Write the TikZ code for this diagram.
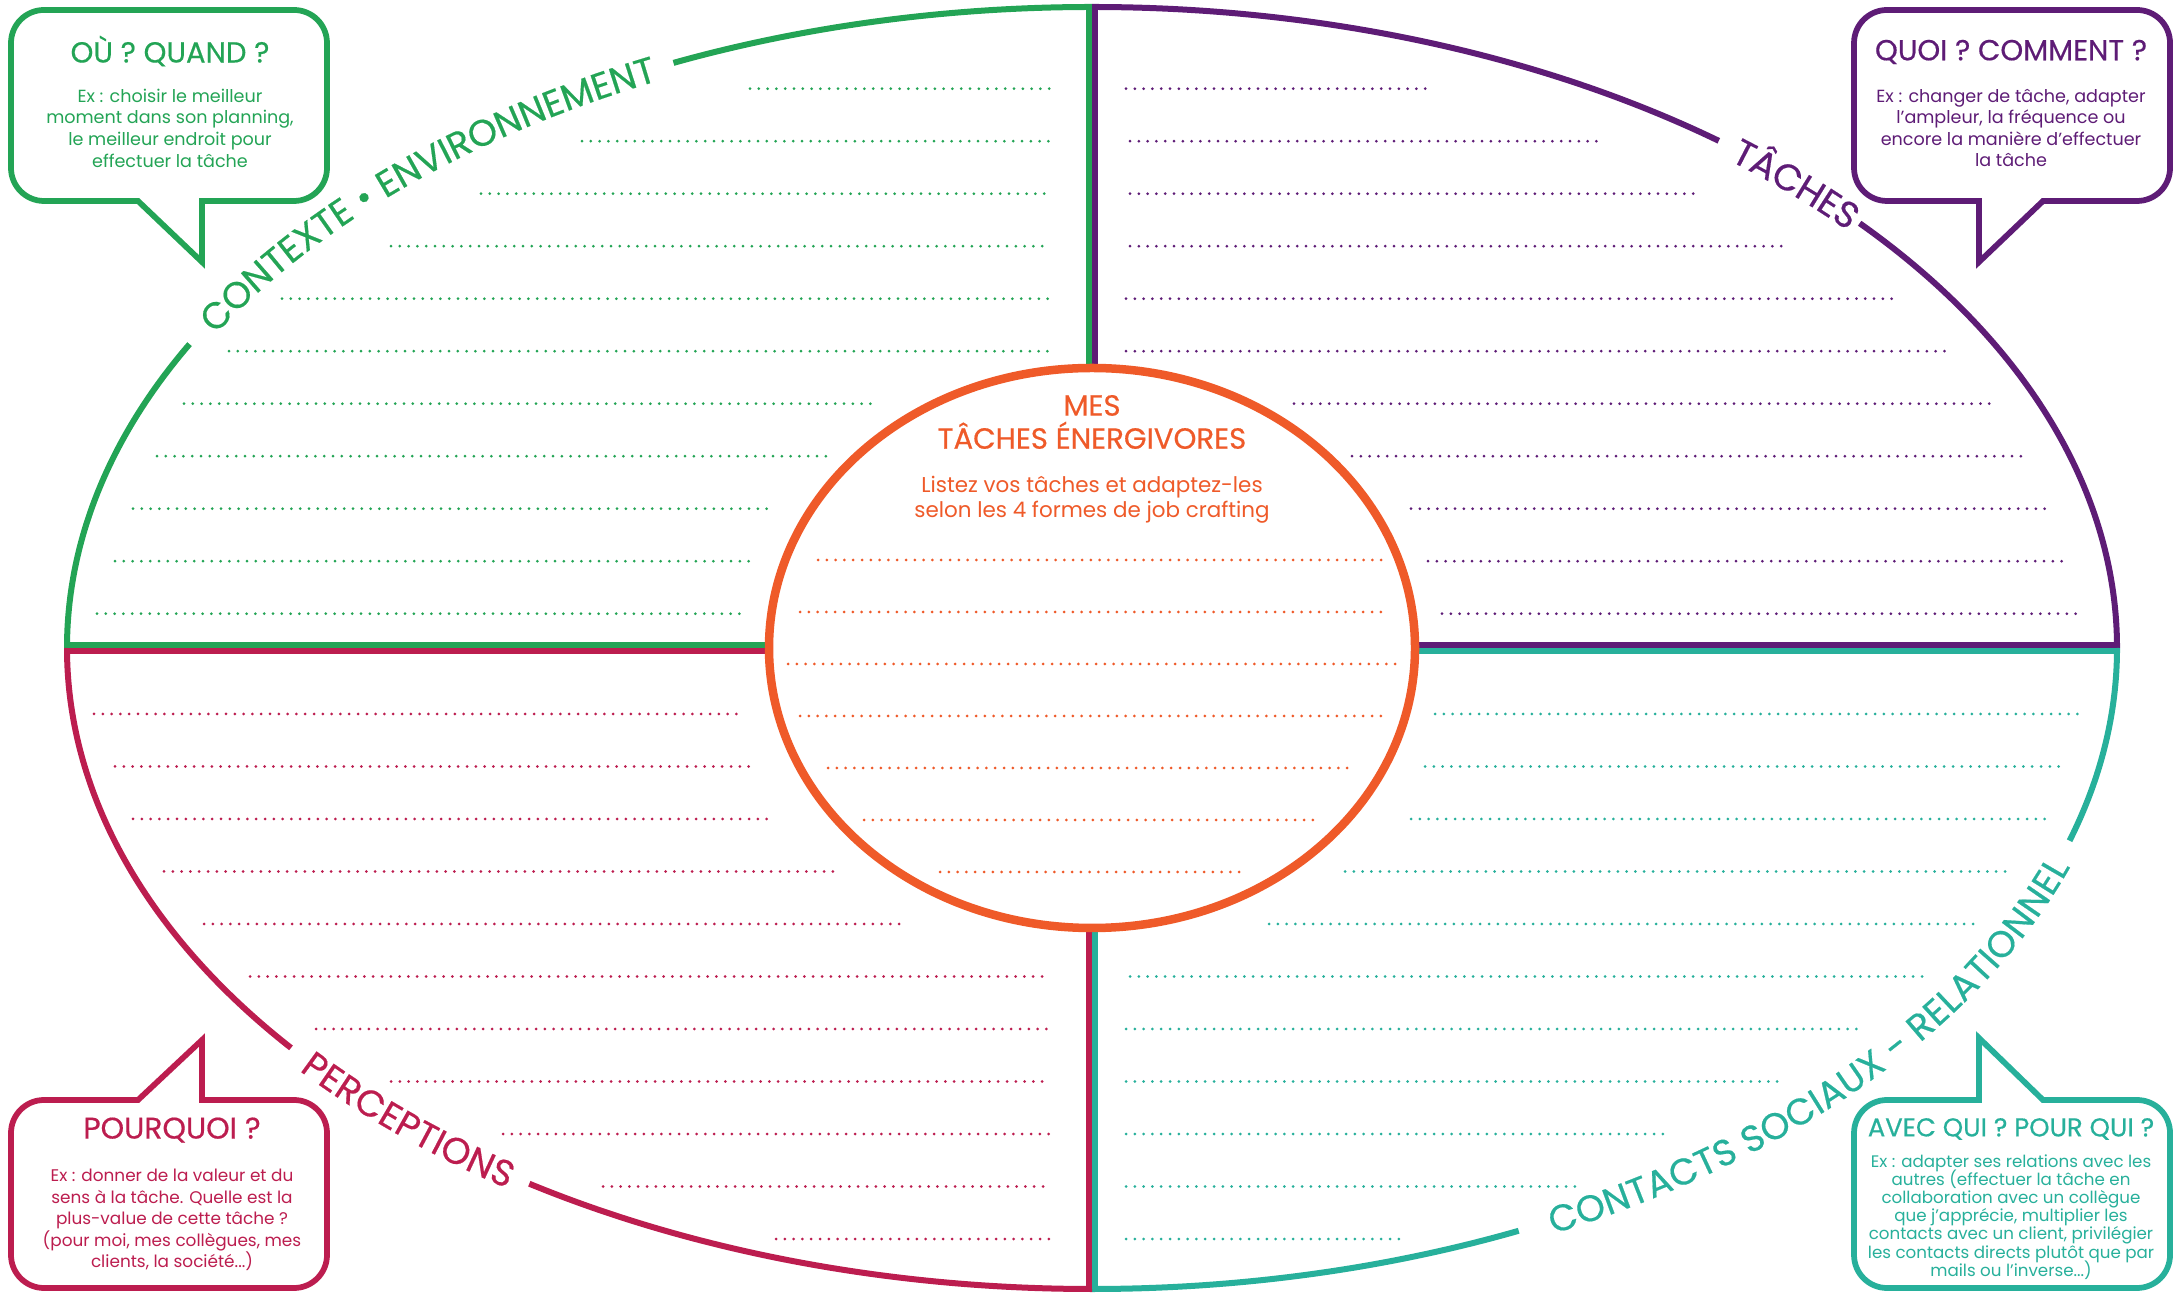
\documentclass[tikz,border=0pt]{standalone}
\usepackage{fontspec}
\setmainfont{Poppins}
\newfontfamily\headfont[FakeBold=0.45]{Poppins}
\usetikzlibrary{decorations.text}
\definecolor{jcGreen}{HTML}{23A455}
\definecolor{jcPurple}{HTML}{5E1C76}
\definecolor{jcRed}{HTML}{BC1D4F}
\definecolor{jcTeal}{HTML}{27B09B}
\definecolor{jcOrange}{HTML}{EF5A29}
\newcommand\arcfont{\headfont\fontsize{21}{21}\selectfont}

\begin{document}
\setlength\lineskiplimit{-30pt}
\begin{tikzpicture}[x=0.2mm, y=0.2mm,
  rim/.style={line width=1.2mm},
  dotrow/.style={line width=0.6mm, line cap=round, dash pattern=on 0pt off 1.76mm},
  bubble/.style={line width=1.15mm, fill=white},
  bubhead/.style={font=\headfont\fontsize{16.5}{19}\selectfont, align=center},
  bubtext/.style={font=\fontsize{10}{12.3}\selectfont, align=center},
  ell/.style={x radius=1025, y radius=641},
  arclabel/.style={decorate, decoration={text along path, text align={fit to path}, raise=-2.6mm}}
]
\path[use as bounding box] (0,0) rectangle (2174,1292);
\coordinate (C) at (1092,644);

% outer ellipse, one colour per quadrant, cut where the labels run
\draw[rim, jcGreen] (C) ++(180:1025 and 641) arc[ell, start angle=180, end angle=151.7];
\draw[rim, jcGreen] (C) ++(114.1:1025 and 641) arc[ell, start angle=114.1, end angle=90];
\draw[rim, jcPurple] (C) ++(90:1025 and 641) arc[ell, start angle=90, end angle=52.3];
\draw[rim, jcPurple] (C) ++(41.5:1025 and 641) arc[ell, start angle=41.5, end angle=0];
\draw[rim, jcTeal] (C) ++(0:1025 and 641) arc[ell, start angle=0, end angle=-17.5];
\draw[rim, jcTeal] (C) ++(-65.4:1025 and 641) arc[ell, start angle=-65.4, end angle=-90];
\draw[rim, jcRed] (C) ++(270:1025 and 641) arc[ell, start angle=270, end angle=236.7];
\draw[rim, jcRed] (C) ++(218.6:1025 and 641) arc[ell, start angle=218.6, end angle=180];

% labels on the ellipse
\path[arclabel, decoration={text={|\arcfont\color{jcGreen}|CONTEXTE • ENVIRONNEMENT}}]
  (C) ++(149.8:1025 and 641) arc[ell, start angle=149.8, end angle=115.3];
\path[arclabel, decoration={text={|\arcfont\color{jcPurple}|TÂCHES}}]
  (C) ++(51.1:1025 and 641) arc[ell, start angle=51.1, end angle=42.5];
\path[arclabel, decoration={text={|\arcfont\color{jcRed}|PERCEPTIONS}}]
  (C) ++(220:1025 and 641) arc[ell, start angle=220, end angle=235.4];
\path[arclabel, decoration={text={|\arcfont\color{jcTeal}|CONTACTS SOCIAUX - RELATIONNEL}}]
  (C) ++(-63.5:1025 and 641) arc[ell, start angle=-63.5, end angle=-19.4];

% quadrant borders
\draw[rim, jcGreen] (67,646.75) -- (1089.25,646.75) -- (1089.25,1285);
\draw[rim, jcPurple] (2117,646.75) -- (1094.75,646.75) -- (1094.75,1285);
\draw[rim, jcRed] (67,641.25) -- (1089.25,641.25) -- (1089.25,3);
\draw[rim, jcTeal] (2117,641.25) -- (1094.75,641.25) -- (1094.75,3);

% writing lines
\foreach \xa/\xb [count=\i from 0] in {750/1054, 582/1050, 481/1050, 391/1050, 282/1052,
    229/1054, 184/878, 157/829, 133/770, 115/753, 97/743}
  \draw[dotrow, jcGreen] (\xa,{1203.3-52.5*\i}) -- (\xb,{1203.3-52.5*\i});
\foreach \xa/\xb [count=\i from 0] in {1126/1428, 1130/1597, 1130/1698, 1130/1789, 1126/1897,
    1126/1952, 1294/1994, 1352/2022, 1411/2046, 1428/2066, 1442/2083}
  \draw[dotrow, jcPurple] (\xa,{1203.3-52.5*\i}) -- (\xb,{1203.3-52.5*\i});
\foreach \xa/\xb [count=\i from 0] in {94/742, 115/753, 133/770, 164/835, 204/908,
    250/1047, 316/1047, 391/1047, 503/1050, 603/1050, 776/1050}
  \draw[dotrow, jcRed] (\xa,{578-52.5*\i}) -- (\xb,{578-52.5*\i});
\foreach \xa/\xb [count=\i from 0] in {1435/2080, 1425/2063, 1411/2046, 1345/2013, 1269/1976,
    1130/1927, 1126/1862, 1126/1786, 1126/1671, 1126/1576, 1126/1400}
  \draw[dotrow, jcTeal] (\xa,{578-52.5*\i}) -- (\xb,{578-52.5*\i});

% centre
\draw[line width=1.7mm, draw=jcOrange, fill=white] (C) ellipse[x radius=323, y radius=280];
\node[font=\headfont\fontsize{16.6}{18.8}\selectfont, align=center, text=jcOrange] (title) at (1092,870)
  {MES\\TÂCHES ÉNERGIVORES};
\node[font=\fontsize{12.2}{14.2}\selectfont, align=center, text=jcOrange] (intro) at (1092,792)
  {Listez vos tâches et adaptez-les\\selon les 4 formes de job crafting};
\foreach \xa/\xb [count=\i from 0] in {818/1382, 800/1389, 788/1400, 800/1389, 828/1355, 864/1314, 940/1245}
  \draw[dotrow, jcOrange] (\xa,{732-52*\i}) -- (\xb,{732-52*\i});

% Callout: where / when
\draw[bubble, draw=jcGreen] (202,1030) -- (138,1091) -- (44,1091) arc[start angle=270, end angle=180, radius=33]
  -- (11,1249) arc[start angle=180, end angle=90, radius=33] -- (294,1282)
  arc[start angle=90, end angle=0, radius=33] -- (327,1124) arc[start angle=0, end angle=-90, radius=33]
  -- (202,1091) -- cycle;
\node[bubhead, text=jcGreen] (ouHead) at (170,1241) {OÙ ? QUAND ?};
\node[bubtext, text=jcGreen] (ouText) at (170,1164)
  {Ex : choisir le meilleur\\moment dans son planning,\\le meilleur endroit pour\\effectuer la tâche};

% Callout: what / how
\draw[bubble, draw=jcPurple] (1979,1030) -- (2043,1091) -- (2137,1091) arc[start angle=-90, end angle=0, radius=33]
  -- (2170,1249) arc[start angle=0, end angle=90, radius=33] -- (1887,1282)
  arc[start angle=90, end angle=180, radius=33] -- (1854,1124) arc[start angle=180, end angle=270, radius=33]
  -- (1979,1091) -- cycle;
\node[bubhead, text=jcPurple] (quoiHead) at (2011,1240) {QUOI ? COMMENT ?};
\node[bubtext, text=jcPurple] (quoiText) at (2011,1164)
  {Ex : changer de tâche, adapter\\l’ampleur, la fréquence ou\\encore la manière d’effectuer\\la tâche};

% Callout: why
\draw[bubble, draw=jcRed] (202,252) -- (138,192) -- (44,192) arc[start angle=90, end angle=180, radius=33]
  -- (11,37) arc[start angle=180, end angle=270, radius=33] -- (294,4)
  arc[start angle=270, end angle=360, radius=33] -- (327,159) arc[start angle=0, end angle=90, radius=33]
  -- (202,192) -- cycle;
\node[bubhead, text=jcRed, font=\headfont\fontsize{17}{19}\selectfont] (pqHead) at (172,162) {POURQUOI ?};
\node[bubtext, text=jcRed, font=\fontsize{9.6}{12.3}\selectfont] (pqText) at (172,72)
  {Ex : donner de la valeur et du\\sens à la tâche. Quelle est la\\plus-value de cette tâche ?\\(pour moi, mes collègues, mes\\clients, la société...)};

% Callout: with whom / for whom
\draw[bubble, draw=jcTeal] (1979,254) -- (2043,192) -- (2137,192) arc[start angle=90, end angle=0, radius=33]
  -- (2170,37) arc[start angle=0, end angle=-90, radius=33] -- (1887,4)
  arc[start angle=270, end angle=180, radius=33] -- (1854,159) arc[start angle=180, end angle=90, radius=33]
  -- (1979,192) -- cycle;
\node[bubhead, text=jcTeal, font=\headfont\fontsize{14.7}{18}\selectfont] (quiHead) at (2011,163) {AVEC QUI ? POUR QUI ?};
\node[bubtext, text=jcTeal, font=\fontsize{9.5}{10.3}\selectfont] (quiText) at (2011,75)
  {Ex : adapter ses relations avec les\\autres (effectuer la tâche en\\collaboration avec un collègue\\que j’apprécie, multiplier les\\contacts avec un client, privilégier\\les contacts directs plutôt que par\\mails ou l’inverse...)};
\end{tikzpicture}
\end{document}
